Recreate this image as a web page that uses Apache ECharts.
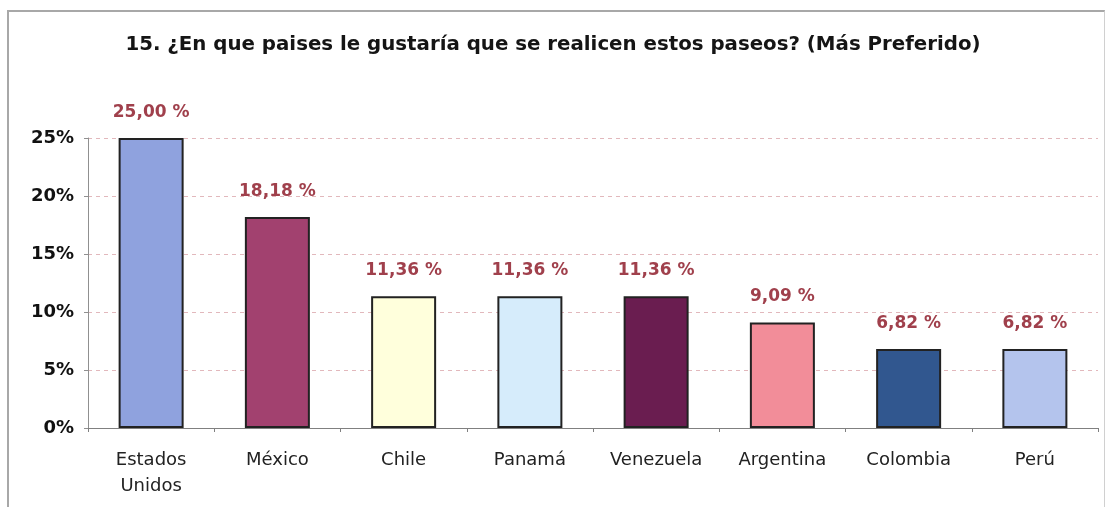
<!DOCTYPE html>
<html>
<head>
<meta charset="utf-8">
<script src="https://cdn.jsdelivr.net/npm/echarts@6/dist/echarts.min.js"></script>
<style>
  html, body { margin: 0; padding: 0; background: #fff; }
  #frame { position: absolute; left: 7px; top: 10px; width: 1098px; height: 500px; border-left: 2px solid #a8a8a8; border-top: 2px solid #a8a8a8; border-right: 1px solid #d0d0d0; box-sizing: border-box; }
  #chart { position: absolute; left: 0; top: 0; width: 1106px; height: 507px; }
</style>
</head>
<body>
<div id="frame"></div>
<div id="chart"></div>
<script>
// Country preferences (share of respondents, %)
const categories = ['Estados\nUnidos', 'México', 'Chile', 'Panamá', 'Venezuela', 'Argentina', 'Colombia', 'Perú'];
const values = [25.00, 18.18, 11.36, 11.36, 11.36, 9.09, 6.82, 6.82];
const barColors = ['#8fa2de', '#a2416f', '#ffffdc', '#d6ecfb', '#6a1d50', '#f28d99', '#31578f', '#b4c4ed'];
const yTicks = [0, 5, 10, 15, 20, 25];

const chart = echarts.init(document.getElementById('chart'));
chart.setOption({
  animation: false,
  title: {
    text: '15. ¿En que paises le gustaría que se realicen estos paseos? (Más Preferido)',
    left: 'center',
    top: 30,
    textStyle: { fontFamily: 'DejaVu Sans', fontWeight: 'bold', fontSize: 19.8, color: '#151515' }
  },
  grid: { left: 88, right: 8, top: 138, bottom: 79 },
  xAxis: {
    type: 'category',
    data: categories,
    axisLine: { lineStyle: { color: '#808080', width: 1 } },
    axisTick: { show: true, alignWithLabel: false, length: 4, lineStyle: { color: '#808080' } },
    axisLabel: { color: '#222', fontFamily: 'DejaVu Sans', fontSize: 18, margin: 19, lineHeight: 26 }
  },
  yAxis: {
    type: 'value',
    min: yTicks[0],
    max: yTicks[yTicks.length - 1],
    interval: 5,
    axisLine: { show: true, lineStyle: { color: '#909090' } },
    axisTick: { show: true, length: 4, lineStyle: { color: '#909090' } },
    axisLabel: { formatter: v => v + '%', color: '#111', fontFamily: 'DejaVu Sans', fontWeight: 'bold', fontSize: 18, margin: 14 },
    splitLine: { show: true, lineStyle: { color: '#e2b8bc', type: [4, 4], width: 1 } }
  },
  series: [{
    type: 'bar',
    barWidth: 65,
    data: values.map((v, i) => ({ value: v, itemStyle: { color: barColors[i] } })),
    itemStyle: { borderColor: '#222', borderWidth: 2 },
    label: {
      show: true,
      position: 'top',
      distance: 17,
      formatter: p => p.value.toFixed(2).replace('.', ',') + ' %',
      color: '#a0404c',
      fontFamily: 'DejaVu Sans',
      fontWeight: 'bold',
      fontSize: 17
    }
  }]
});
</script>
</body>
</html>
